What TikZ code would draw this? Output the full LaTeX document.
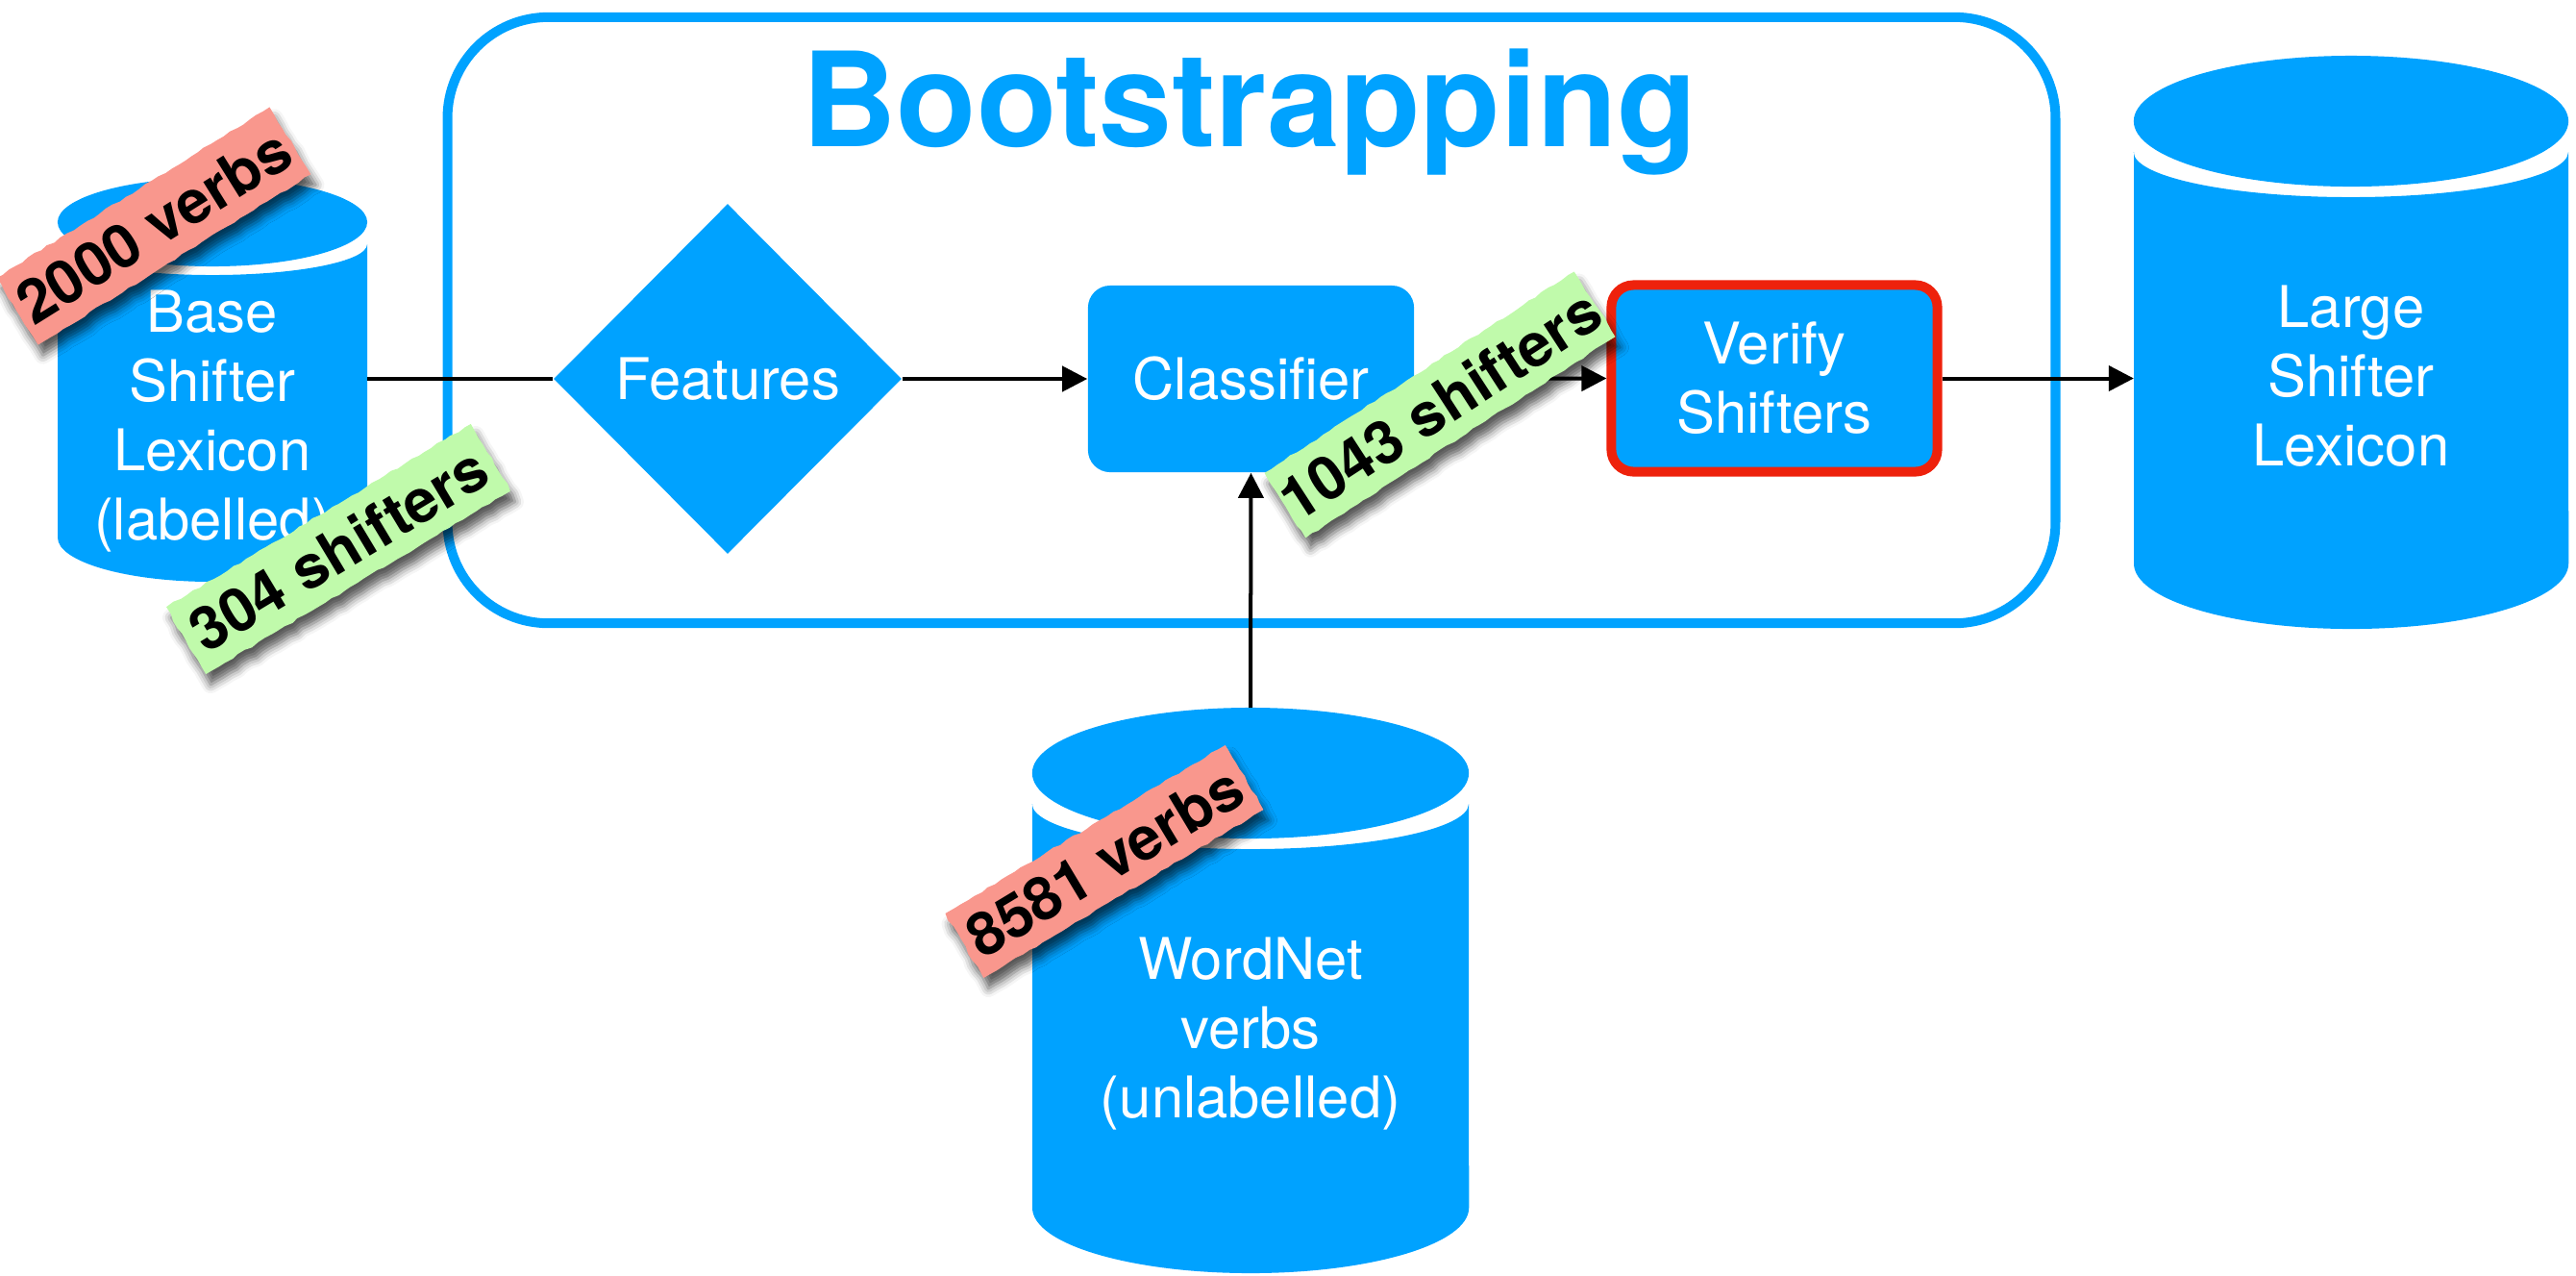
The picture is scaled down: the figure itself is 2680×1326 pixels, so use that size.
\documentclass[tikz,border=0pt]{standalone}
\usepackage{fontspec}
\setmainfont{TeX Gyre Heros}
\usetikzlibrary{arrows.meta,shapes.geometric,shadows.blur,decorations.pathmorphing}

\definecolor{kblue}{RGB}{0,162,255}
\definecolor{kred}{RGB}{238,34,12}
\definecolor{tapered}{RGB}{249,151,141}
\definecolor{tapegreen}{RGB}{192,250,171}

\tikzset{
  link/.style={line width=0.4mm},
  flow/.style={link, -{Triangle[length=2.6mm,width=2.6mm]}},
  nodetext/.style={text=white, font=\fontsize{17}{20.5}\selectfont, align=center, inner sep=0pt},
  procbox/.style={nodetext, fill=kblue, rounded corners=2.3mm, minimum width=33.9mm, minimum height=19.4mm},
  dbbox/.style={inner sep=0pt, outer sep=0pt, draw=none},
  tape/.style={font=\fontsize{17.8}{20}\selectfont\bfseries, text=black, inner sep=0pt,
    decorate, decoration={random steps, segment length=0.8mm, amplitude=0.1mm},
    blur shadow={shadow xshift=0.5mm, shadow yshift=-1.1mm, shadow blur radius=0.9mm, shadow opacity=65}},
}

% database cylinder: name, centre x, top, x radius, y radius, bottom, side drop, body-top y radius
\newcommand\database[8]{%
  \node[dbbox, minimum width={2*#4*0.1mm}, minimum height={(#6-#3)*0.1mm}] (#1) at (#2, {(#3+#6)/2}) {};
  \fill[kblue] (#2-#4, #3+#5+#7) -- (#2-#4, #6-#5)
     arc[start angle=180, end angle=360, x radius={#4*0.1mm}, y radius={#5*0.1mm}]
     -- (#2+#4, #3+#5+#7)
     arc[start angle=0, end angle=-180, x radius={#4*0.1mm}, y radius={#8*0.1mm}] -- cycle;
  \fill[kblue] (#2, #3+#5) ellipse[x radius={#4*0.1mm}, y radius={#5*0.1mm}];
}

\begin{document}
\pgfmathsetseed{7}
\begin{tikzpicture}[x=0.01cm, y=-0.01cm]
\useasboundingbox (0,0) rectangle (2680,1326);

% bootstrapping frame and its title
\node[draw=kblue, line width=1mm, rounded corners=10.5mm, minimum width=167.2mm, minimum height=63mm] (boot) at (1302,333) {};
\node[font=\fontsize{38.8}{46}\selectfont\bfseries, text=kblue, anchor=base, inner sep=0pt] (title) at (1300,152) {Bootstrapping};

% data stores
\database{base}{221}{185}{161}{46}{605}{23}{32}
\database{large}{2446}{58}{226}{68}{654}{32}{47}
\database{wordnet}{1301}{736}{227}{68}{1324}{32}{47}
\node[nodetext] (base-label) at (221,438) {Base\\Shifter\\Lexicon\\(labelled)};
\node[nodetext] (large-label) at (2446,391) {Large\\Shifter\\Lexicon};
\node[nodetext] (wordnet-label) at (1301,1075) {WordNet\\verbs\\(unlabelled)};

% processing steps
\node[diamond, nodetext, fill=kblue, minimum width=36.2mm, minimum height=36.4mm] (feat) at (757,394) {Features};
\node[procbox] (classifier) at (1301.5,394) {Classifier};
\node[procbox, draw=kred, line width=1mm] (verify) at (1846,393.5) {Verify\\Shifters};

% connectors
\draw[link] (base.east |- feat.west) -- (feat.west);
\draw[flow] (feat.east) -- (classifier.west);
\draw[flow] (classifier.east) -- (verify.west);
\draw[flow] (verify.east) -- (verify.east -| large.west);
\draw[flow] (wordnet.north) -- (classifier.south);

% count tapes
\node[tape, fill=tapered, rotate=32, minimum width=33.5mm, minimum height=8.2mm] (t2000) at (160,235) {2000 verbs};
\node[tape, fill=tapegreen, rotate=31, minimum width=37mm, minimum height=8.1mm] (t304) at (352,571) {304 shifters};
\node[tape, fill=tapegreen, rotate=33, minimum width=38.5mm, minimum height=8mm] (t1043) at (1498,421) {1043 shifters};
\node[tape, fill=tapered, rotate=31, minimum width=34mm, minimum height=7.8mm] (t8581) at (1149,896) {8581 verbs};
\end{tikzpicture}
\end{document}
